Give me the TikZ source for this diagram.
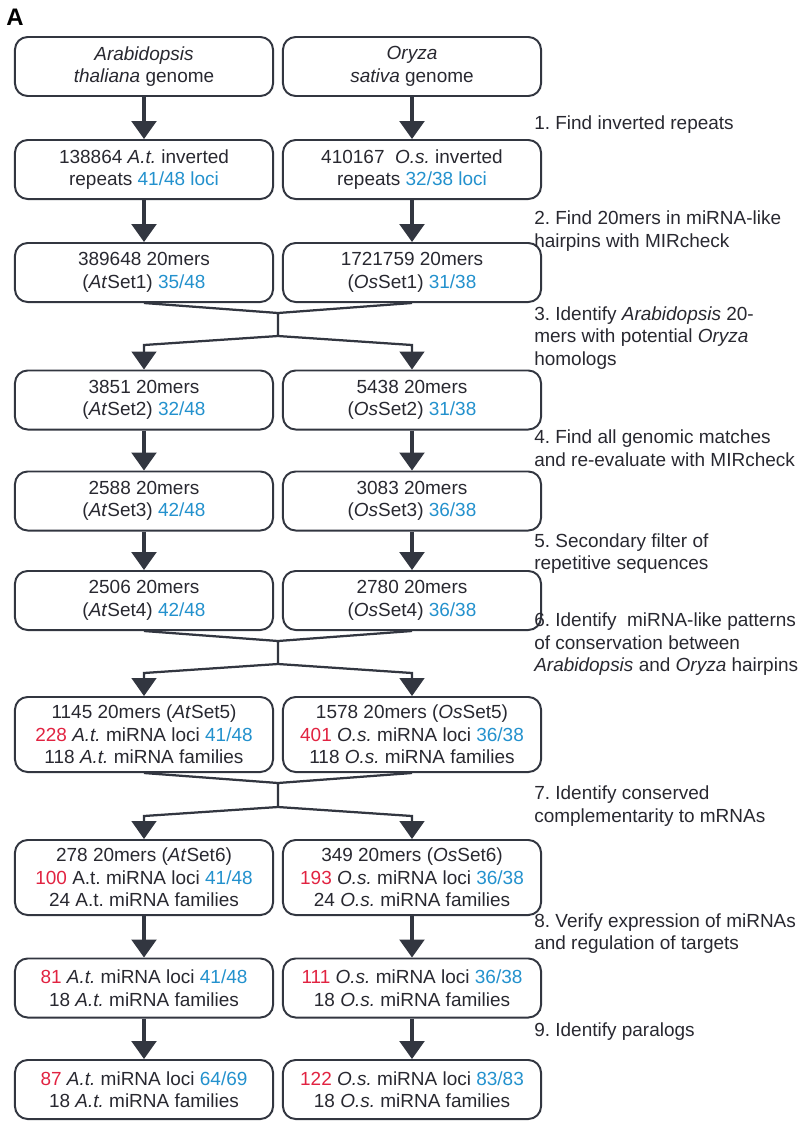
\documentclass[tikz,border=0pt]{standalone}
\usepackage{fontspec}
\setmainfont{Liberation Sans}
\usepackage{xcolor}
\usetikzlibrary{arrows.meta,positioning}
\definecolor{figblue}{RGB}{35,145,205}
\definecolor{figred}{RGB}{225,35,65}
\definecolor{figink}{RGB}{50,54,64}
\definecolor{figtext}{RGB}{40,40,48}
\newcommand{\hitb}[1]{\textcolor{figblue}{#1}}
\newcommand{\hitr}[1]{\textcolor{figred}{#1}}
\frenchspacing
\tikzset{
  box/.style={draw=figink,line width=1.4pt,rounded corners=9pt,minimum width=6.45cm,minimum height=1.475cm,align=center,inner sep=2pt,text=figtext,font=\fontsize{13.5}{16}\selectfont},
  tallbox/.style={box,minimum height=1.875cm},
  flow/.style={figink,line width=2.2pt,-{Triangle[width=0.62cm,length=0.45cm]}},
  split/.style={flow,line width=1.6pt},
  joinline/.style={figink,line width=1.6pt},
  steptext/.style={anchor=west,align=left,text=figtext,inner sep=0pt,font=\fontsize{13.5}{16}\selectfont}
}

\begin{document}
\begin{tikzpicture}[x=0.025cm,y=-0.025cm]
  \useasboundingbox (0,0) rectangle (800,1121);
  \node[font=\bfseries\fontsize{17}{17}\selectfont] (panel) at (15,17) {A};
  % left column: Arabidopsis
  \node[box] (at1) at (144,66.5) {\textit{Arabidopsis}\\ \textit{thaliana} genome};
  \node[box] (at2) at (144,169.5) {138864 \textit{A.t.} inverted\\ repeats \hitb{41/48 loci}};
  \node[box] (at3) at (144,272.5) {389648 20mers\\ (\textit{At}Set1) \hitb{35/48}};
  \node[box] (at4) at (144,400) {3851 20mers\\ (\textit{At}Set2) \hitb{32/48}};
  \node[box] (at5) at (144,501) {2588 20mers\\ (\textit{At}Set3) \hitb{42/48}};
  \node[box] (at6) at (144,600.5) {2506 20mers\\ (\textit{At}Set4) \hitb{42/48}};
  \node[tallbox] (at7) at (144,734.5) {1145 20mers (\textit{At}Set5)\\ \hitr{228} \textit{A.t.} miRNA loci \hitb{41/48}\\ 118 \textit{A.t.} miRNA families};
  \node[tallbox] (at8) at (144,877.5) {278 20mers (\textit{At}Set6)\\ \hitr{100} A.t. miRNA loci \hitb{41/48}\\ 24 A.t. miRNA families};
  \node[box] (at9) at (144,988) {\hitr{81} \textit{A.t.} miRNA loci \hitb{41/48}\\ 18 \textit{A.t.} miRNA families};
  \node[box] (at10) at (144,1089.5) {\hitr{87} \textit{A.t.} miRNA loci \hitb{64/69}\\ 18 \textit{A.t.} miRNA families};
  % right column: Oryza
  \node[box] (os1) at (412,66.5) {\textit{Oryza}\\ \textit{sativa} genome};
  \node[box] (os2) at (412,169.5) {410167~ \textit{O.s.} inverted\\ repeats \hitb{32/38 loci}};
  \node[box] (os3) at (412,272.5) {1721759 20mers\\ (\textit{Os}Set1) \hitb{31/38}};
  \node[box] (os4) at (412,400) {5438 20mers\\ (\textit{Os}Set2) \hitb{31/38}};
  \node[box] (os5) at (412,501) {3083 20mers\\ (\textit{Os}Set3) \hitb{36/38}};
  \node[box] (os6) at (412,600.5) {2780 20mers\\ (\textit{Os}Set4) \hitb{36/38}};
  \node[tallbox] (os7) at (412,734.5) {1578 20mers (\textit{Os}Set5)\\ \hitr{401} \textit{O.s.} miRNA loci \hitb{36/38}\\ 118 \textit{O.s.} miRNA families};
  \node[tallbox] (os8) at (412,877.5) {349 20mers (\textit{Os}Set6)\\ \hitr{193} \textit{O.s.} miRNA loci \hitb{36/38}\\ 24 \textit{O.s.} miRNA families};
  \node[box] (os9) at (412,988) {\hitr{111} \textit{O.s.} miRNA loci \hitb{36/38}\\ 18 \textit{O.s.} miRNA families};
  \node[box] (os10) at (412,1089.5) {\hitr{122} \textit{O.s.} miRNA loci \hitb{83/83}\\ 18 \textit{O.s.} miRNA families};
  % steps
  \node[steptext] (s1) at (534,125) {1. Find inverted repeats};
  \node[steptext] (s2) at (534,231) {2. Find 20mers in miRNA-like\\hairpins with MIRcheck};
  \node[steptext] (s3) at (534,338) {3. Identify \textit{Arabidopsis} 20-\\mers with potential \textit{Oryza}\\homologs};
  \node[steptext] (s4) at (534,448) {4. Find all genomic matches\\and re-evaluate with MIRcheck};
  \node[steptext] (s5) at (534,553.5) {5. Secondary filter of\\repetitive sequences};
  \node[steptext] (s6) at (534,644.5) {6. Identify~ miRNA-like patterns\\of conservation between\\\textit{Arabidopsis} and \textit{Oryza} hairpins};
  \node[steptext] (s7) at (534,806) {7. Identify conserved\\complementarity to mRNAs};
  \node[steptext] (s8) at (534,933.5) {8. Verify expression of miRNAs\\and regulation of targets};
  \node[steptext] (s9) at (534,1032) {9. Identify paralogs};
  % straight arrows
  \foreach \a/\b in {1/2,2/3,4/5,5/6,8/9,9/10}{
    \draw[flow] (at\a.south) -- (at\b.north);
    \draw[flow] (os\a.south) -- (os\b.north);
  }
  % merge and split points
  \coordinate (j1) at (278,313);
  \coordinate (k1) at (278,336);
  \coordinate (la1) at (144,345);
  \coordinate (ra1) at (412,345);
  \coordinate (j2) at (278,641);
  \coordinate (k2) at (278,664);
  \coordinate (la2) at (144,673);
  \coordinate (ra2) at (412,673);
  \coordinate (j3) at (278,783);
  \coordinate (k3) at (278,807);
  \coordinate (la3) at (144,816);
  \coordinate (ra3) at (412,816);
  \draw[joinline] (at3.south) -- (j1) -- (os3.south) (j1) -- (k1);
  \draw[split] (k1) -- (la1) -- (at4.north);
  \draw[split] (k1) -- (ra1) -- (os4.north);
  \draw[joinline] (at6.south) -- (j2) -- (os6.south) (j2) -- (k2);
  \draw[split] (k2) -- (la2) -- (at7.north);
  \draw[split] (k2) -- (ra2) -- (os7.north);
  \draw[joinline] (at7.south) -- (j3) -- (os7.south) (j3) -- (k3);
  \draw[split] (k3) -- (la3) -- (at8.north);
  \draw[split] (k3) -- (ra3) -- (os8.north);
\end{tikzpicture}
\end{document}
